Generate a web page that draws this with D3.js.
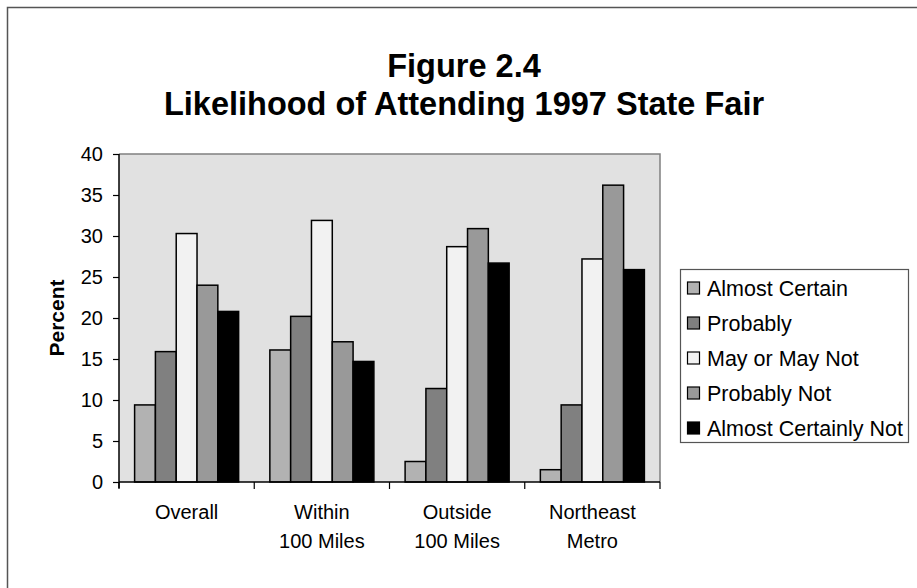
<!DOCTYPE html>
<html>
<head>
<meta charset="utf-8">
<script src="https://cdn.jsdelivr.net/npm/d3@7"></script>
<style>
  html, body { margin: 0; padding: 0; background: #ffffff; }
  svg { display: block; font-family: "Liberation Sans", Arial, Helvetica, sans-serif; }
</style>
</head>
<body>
<svg id="chart" width="917" height="588"></svg>
<script>
// Survey responses by region (percent)
const categories = [["Overall"], ["Within", "100 Miles"], ["Outside", "100 Miles"], ["Northeast", "Metro"]];
const seriesNames = ["Almost Certain", "Probably", "May or May Not", "Probably Not", "Almost Certainly Not"];
const almostCertain      = [9.4, 16.1, 2.5, 1.5];
const probably           = [15.9, 20.2, 11.4, 9.4];
const mayOrMayNot        = [30.3, 31.9, 28.7, 27.2];
const probablyNot        = [24.0, 17.1, 30.9, 36.2];
const almostCertainlyNot = [20.8, 14.7, 26.7, 25.9];
const yTicks = [0, 5, 10, 15, 20, 25, 30, 35, 40];
const seriesColors = ["#b2b2b2", "#808080", "#f2f2f2", "#999999", "#000000"];

const seriesValues = [almostCertain, probably, mayOrMayNot, probablyNot, almostCertainlyNot];
const catKeys = categories.map(c => c.join(" "));

const svg = d3.select("#chart");

// outer chart frame (runs past the right and bottom of the page)
svg.append("rect")
  .attr("x", 7.5).attr("y", 7.5).attr("width", 940).attr("height", 620)
  .attr("fill", "#ffffff").attr("stroke", "#555555").attr("stroke-width", 1.5);

// title
const title = svg.append("text")
  .attr("text-anchor", "middle")
  .attr("font-weight", "bold").attr("font-size", 32.5).attr("fill", "#000");
title.append("tspan").attr("x", 464).attr("y", 77).text("Figure 2.4");
title.append("tspan").attr("x", 464).attr("y", 115).text("Likelihood of Attending 1997 State Fair");

const plot = { left: 119, right: 660, top: 154, bottom: 482 };

const x = d3.scaleBand().domain(catKeys).range([plot.left, plot.right]).paddingInner(0).paddingOuter(0);
const xs = d3.scaleBand().domain(seriesNames).range([0, x.bandwidth()]).paddingInner(0).paddingOuter(0.75);
const y = d3.scaleLinear().domain([0, 40]).range([plot.bottom, plot.top]);

// plot background and frame
svg.append("rect")
  .attr("x", plot.left).attr("y", plot.top)
  .attr("width", plot.right - plot.left).attr("height", plot.bottom - plot.top)
  .attr("fill", "#e1e1e1");
svg.append("path")
  .attr("d", `M${plot.left},${plot.top}H${plot.right}V${plot.bottom}`)
  .attr("fill", "none").attr("stroke", "#808080").attr("stroke-width", 1.5);

// bars
const groups = svg.append("g").selectAll("g")
  .data(catKeys)
  .join("g")
  .attr("transform", d => `translate(${x(d)},0)`);

groups.selectAll("rect")
  .data((d, i) => seriesNames.map((s, j) => ({ s, j, v: seriesValues[j][i] })))
  .join("rect")
  .attr("x", d => xs(d.s))
  .attr("y", d => y(d.v))
  .attr("width", xs.bandwidth())
  .attr("height", d => y(0) - y(d.v))
  .attr("fill", d => seriesColors[d.j])
  .attr("stroke", "#000").attr("stroke-width", 1.5);

// y axis
const yAxis = d3.axisLeft(y).tickValues(yTicks).tickSize(6).tickPadding(10).tickFormat(d3.format("d"));
const gy = svg.append("g").attr("transform", `translate(${plot.left},0)`).call(yAxis);
gy.select(".domain").attr("stroke", "#000").attr("stroke-width", 1.5)
  .attr("d", `M0,${plot.top}V${plot.bottom + 6}`);
gy.selectAll(".tick line").attr("stroke", "#000").attr("stroke-width", 1.2);
gy.selectAll(".tick text").attr("font-size", 20).attr("fill", "#000")
  .attr("font-family", "'Liberation Sans', Arial, sans-serif");

// x axis
const gx = svg.append("g").attr("transform", `translate(0,${plot.bottom})`);
gx.append("line").attr("x1", plot.left).attr("x2", plot.right).attr("y1", 0).attr("y2", 0)
  .attr("stroke", "#000").attr("stroke-width", 1.5);
const tickXs = catKeys.map(k => x(k)).concat([plot.right]);
gx.selectAll("line.tick").data(tickXs).join("line").attr("class", "tick")
  .attr("x1", d => d).attr("x2", d => d).attr("y1", 0).attr("y2", 7)
  .attr("stroke", "#000").attr("stroke-width", 1.2);
const labels = gx.selectAll("text").data(categories).join("text")
  .attr("text-anchor", "middle").attr("font-size", 20).attr("fill", "#000");
labels.each(function (lines, i) {
  const t = d3.select(this);
  lines.forEach((ln, k) => {
    t.append("tspan").attr("x", x(catKeys[i]) + x.bandwidth() / 2).attr("y", 37 + k * 29).text(ln);
  });
});

// y axis title
svg.append("text")
  .attr("transform", `translate(64,${(plot.top + plot.bottom) / 2}) rotate(-90)`)
  .attr("text-anchor", "middle").attr("font-weight", "bold").attr("font-size", 21)
  .attr("fill", "#000").text("Percent");

// legend
const legend = svg.append("g");
legend.append("rect")
  .attr("x", 680.5).attr("y", 269.5).attr("width", 228).attr("height", 173)
  .attr("fill", "#ffffff").attr("stroke", "#555555").attr("stroke-width", 1.2);
const items = legend.selectAll("g").data(seriesNames).join("g")
  .attr("transform", (d, i) => `translate(0,${288 + i * 35})`);
items.append("rect")
  .attr("x", 687.5).attr("y", -6).attr("width", 12).attr("height", 12)
  .attr("fill", (d, i) => seriesColors[i]).attr("stroke", "#000").attr("stroke-width", 1.2);
items.append("text")
  .attr("x", 707).attr("y", 7.5).attr("font-size", 21.5).attr("fill", "#000")
  .text(d => d);
</script>
</body>
</html>
